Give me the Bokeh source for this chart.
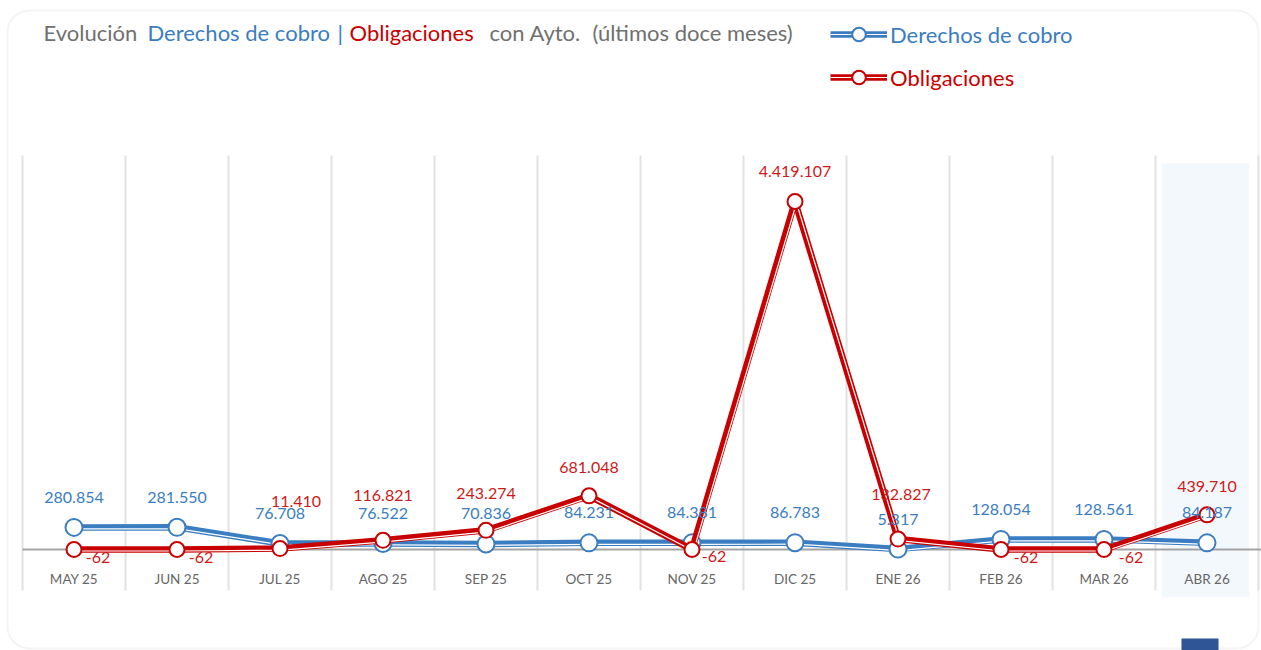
from bokeh.plotting import figure
from bokeh.models import Label, Legend, LegendItem, BoxAnnotation, ColumnDataSource
from bokeh.core.properties import value
from bokeh.embed import file_html
from bokeh.resources import INLINE
import numpy as np

# ---------------- data ----------------
months = ["MAY 25", "JUN 25", "JUL 25", "AGO 25", "SEP 25", "OCT 25",
          "NOV 25", "DIC 25", "ENE 26", "FEB 26", "MAR 26", "ABR 26"]
derechos = [280854, 281550, 76708, 76522, 70836, 84231,
            84381, 86783, 5317, 128054, 128561, 84187]
obligaciones = [-62, -62, 11410, 116821, 243274, 681048,
                -62, 4419107, 132827, -62, -62, 439710]

# label placement (screen px offsets), kept apart from data
obl_dx = [24, 24, 16, 0, 0, 0, 22, 0, 3, 25, 27, 0]
obl_dy = [8, 8, -47, -45, -37, -28, 7, -30, -45, 8, 8, -28]
der_dy = -30

BLUE = "#3a7dc1"
RED = "#c80000"
RED_TXT = "#cc1a1a"
GRAY = "#707070"
FONT = "Lato"

# ---------------- layout mapping ----------------
W, H = 1261, 650
PX_CAT = 103.0
LEFT_BOUND_PX = 22.0
ZERO_PY = 549.0
PX_PER_UNIT = 348.0 / 4419107.0

x_start = -0.5 - LEFT_BOUND_PX / PX_CAT
x_end = x_start + W / PX_CAT
y_start = -(H - ZERO_PY) / PX_PER_UNIT
y_end = ZERO_PY / PX_PER_UNIT


def X(px):
    return x_start + px / PX_CAT


def Y(py):
    return (ZERO_PY - py) / PX_PER_UNIT


def fmt(v):
    s = f"{abs(v):,}".replace(",", ".")
    return ("-" if v < 0 else "") + s


n = len(months)
idx = np.arange(n)
der = np.array(derechos, dtype=float)
obl = np.array(obligaciones, dtype=float)
off_y = 1.5 / PX_PER_UNIT
off_x = 1.5 / PX_CAT

p = figure(width=W, height=H, x_range=(x_start, x_end), y_range=(y_start, y_end),
           min_border=0, toolbar_location=None, output_backend="svg",
           x_axis_location=None, y_axis_location=None)
p.grid.visible = False
p.outline_line_color = None
p.background_fill_color = "white"
p.border_fill_color = "white"

# card border
p.add_layout(BoxAnnotation(left=X(7), right=X(1258), top=Y(10), bottom=Y(648),
                           fill_alpha=0, line_color="#dcdcdc", line_width=2,
                           border_radius=22, level="underlay"))

# highlighted last column
p.quad(left=[n - 1 - 0.44], right=[n - 1 + 0.41], top=[Y(163)], bottom=[Y(597)],
       fill_color="#f3f8fd", line_color=None)

# vertical grid lines at category boundaries
bounds = np.arange(n + 1) - 0.5
p.segment(x0=bounds, y0=[Y(590)] * len(bounds), x1=bounds, y1=[Y(155)] * len(bounds),
          line_color="#e2e2e2", line_width=2)

# baseline
p.segment(x0=[-0.5], y0=[0], x1=[x_end], y1=[0], line_color="#a3a3a3", line_width=2)

# category labels
p.text(x=idx, y=[Y(578)] * n, text=months, text_align="center", text_baseline="middle",
       text_font=value(FONT), text_font_size="13.5px", text_color="#666666")

# series: Derechos de cobro
b_line = p.line(idx, der, line_width=6.5, line_color=BLUE, line_join="round")
b_white = p.line(idx + off_x, der - off_y, line_width=1.2, line_color="white",
                 line_join="round")
b_pts = p.scatter(idx, der, size=17, fill_color="white", line_color=BLUE, line_width=2)

# series: Obligaciones
r_line = p.line(idx, obl, line_width=6.5, line_color=RED, line_join="round")
r_white = p.line(idx + off_x, obl - off_y, line_width=1.2, line_color="white",
                 line_join="round")
r_pts = p.scatter(idx, obl, size=15, fill_color="white", line_color=RED, line_width=2)

# data labels
p.text(x=idx, y=der, text=[fmt(v) for v in derechos], y_offset=der_dy,
       text_align="center", text_baseline="middle", text_font=value(FONT),
       text_font_size="16px", text_color=BLUE)
src_r = ColumnDataSource(dict(x=idx, y=obl, t=[fmt(v) for v in obligaciones],
                              dx=obl_dx, dy=obl_dy))
p.text(x="x", y="y", text="t", x_offset="dx", y_offset="dy", source=src_r,
       text_align="center", text_baseline="middle", text_font=value(FONT),
       text_font_size="16px", text_color=RED_TXT)

# title pieces
for txt, px, col in [("Evolución", 43, GRAY), ("Derechos de cobro", 147, BLUE),
                     ("|", 337, BLUE), ("Obligaciones", 349, RED),
                     ("con Ayto.", 489, GRAY), ("(últimos doce meses)", 592, GRAY)]:
    p.add_layout(Label(x=X(px), y=Y(32), text=txt, text_color=col, text_font=FONT,
                       text_font_size="22px", text_baseline="middle", text_align="left"))

# legends
for label, rends, col, vy in [("Derechos de cobro", [b_line, b_white, b_pts], BLUE, 599),
                              ("Obligaciones", [r_line, r_white, r_pts], RED, 556)]:
    leg = Legend(items=[LegendItem(label=label, renderers=rends)], location=(830, vy),
                 glyph_width=57, glyph_height=34, label_height=34, label_standoff=3,
                 padding=0, margin=0, border_line_color=None, background_fill_alpha=0,
                 label_text_color=col, label_text_font=FONT, label_text_font_size="22px")
    p.add_layout(leg)

# partial button at bottom right
p.quad(left=[X(1181)], right=[X(1218)], top=[Y(638)], bottom=[Y(655)],
       fill_color="#2f5597", line_color=None)

open("out.html", "w").write(file_html(p, INLINE))
